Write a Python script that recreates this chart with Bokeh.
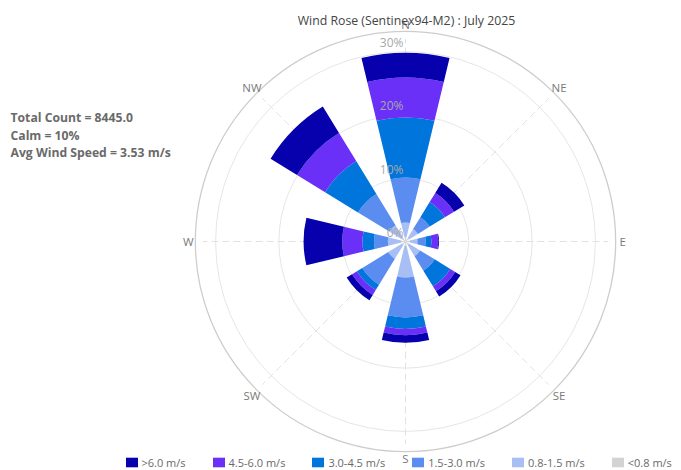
import numpy as np
from bokeh.plotting import figure
from bokeh.models import Range1d, Legend, LegendItem, ColumnDataSource
from bokeh.core.properties import value
from bokeh.embed import file_html
from bokeh.resources import INLINE

# ---------------- data ----------------
title_text = "Wind Rose (Sentinex94-M2) : July 2025"
directions = ["N", "NE", "E", "SE", "S", "SW", "W", "NW"]
direction_deg = [0, 45, 90, 135, 180, 225, 270, 315]

speed_bins = ["<0.8 m/s", "0.8-1.5 m/s", "1.5-3.0 m/s", "3.0-4.5 m/s", "4.5-6.0 m/s", ">6.0 m/s"]
bin_colors = ["#d3d3d3", "#a7bff5", "#5b8cf0", "#0075db", "#6a30f8", "#0600ad"]

# percent of observations per direction (N, NE, E, SE, S, SW, W, NW)
pct_lt_0_8 = [0.7, 0.7, 0.7, 0.7, 0.7, 0.7, 0.7, 0.7]
pct_0_8_1_5 = [2.3, 1.6, 1.2, 2.0, 5.0, 2.5, 2.1, 2.3]
pct_1_5_3_0 = [7.1, 2.2, 1.3, 2.7, 6.3, 4.8, 2.2, 5.8]
pct_3_0_4_5 = [9.5, 2.8, 0.9, 2.9, 1.8, 1.0, 1.8, 6.1]
pct_4_5_6_0 = [6.3, 1.7, 1.1, 0.9, 1.0, 0.9, 3.2, 5.2]
pct_gt_6_0 = [3.9, 1.9, 0.1, 1.0, 1.2, 1.0, 6.1, 4.9]
series = [pct_lt_0_8, pct_0_8_1_5, pct_1_5_3_0, pct_3_0_4_5, pct_4_5_6_0, pct_gt_6_0]

ring_values = [0, 10, 20, 30]
ring_labels = ["0%", "10%", "20%", "30%"]
outer_ring = 33.2

stats_lines = ["Total Count = 8445.0", "Calm = 10%", "Avg Wind Speed = 3.53 m/s"]

# ---------------- layout ----------------
W, H = 681, 470
CX, CY = 405, 241      # rose centre in canvas pixels (from top-left)
K = 6.33               # pixels per percent
SECTOR_HALF = 13.5     # half width of a bar, degrees
FONT = "Open Sans"


def xd(px):
    return (px - CX) / K


def yd(py):
    return (CY - py) / K


p = figure(width=W, height=H,
           x_range=Range1d(xd(0), xd(W)), y_range=Range1d(yd(H), yd(0)),
           x_axis_type=None, y_axis_type=None,
           output_backend="svg", toolbar_location=None,
           min_border=0, outline_line_color=None)
p.background_fill_color = "white"

# grid rings
p.circle(x=0, y=0, radius=ring_values[1:], fill_color=None,
         line_color="#e6e6e6", line_width=1)
p.circle(x=0, y=0, radius=[outer_ring], fill_color=None,
         line_color="#cdcdcd", line_width=1.3)

# spokes
ang = np.radians(90 - np.array(direction_deg))
spoke_r = 32.0
p.segment(x0=0, y0=0, x1=spoke_r * np.cos(ang), y1=spoke_r * np.sin(ang),
          line_color="#e2e2e2", line_width=1, line_dash="7 4")

# stacked bars
start = np.radians(90 - np.array(direction_deg) - SECTOR_HALF)
end = np.radians(90 - np.array(direction_deg) + SECTOR_HALF)
cum = np.zeros(len(directions))
rend = {}
for lab, col, vals in zip(speed_bins, bin_colors, series):
    inner = cum.copy()
    outer = cum + np.array(vals)
    src = ColumnDataSource(dict(inner=inner, outer=outer, start=start, end=end))
    r = p.annular_wedge(x=0, y=0, inner_radius="inner", outer_radius="outer",
                        start_angle="start", end_angle="end", direction="anticlock",
                        source=src, fill_color=col, line_color=None)
    rend[lab] = r
    cum = outer

# ring labels
p.text(x=[xd(403)] * len(ring_values), y=[v + 0.1 for v in ring_values], text=ring_labels,
       text_align="right", text_baseline="bottom", text_font=value(FONT),
       text_font_size="12px", text_color="#a8a8a8")

# compass labels
lab_r = 34.3
p.text(x=lab_r * np.cos(ang), y=lab_r * np.sin(ang), text=directions,
       text_align="center", text_baseline="middle", text_font=value(FONT),
       text_font_size="11.5px", text_color="#7a7a7a")

# title
p.text(x=[xd(406)], y=[yd(20)], text=[title_text], text_align="center",
       text_baseline="middle", text_font=value(FONT), text_font_size="12.3px",
       text_color="#444444")

# stats
p.text(x=[xd(10)] * 3, y=[yd(117), yd(134.5), yd(152)], text=stats_lines,
       text_align="left", text_baseline="middle", text_font=value(FONT),
       text_font_size="12.2px", text_font_style="bold", text_color="#6a6a6a")

legend = Legend(items=[LegendItem(label=lab, renderers=[rend[lab]]) for lab in reversed(speed_bins)],
                orientation="horizontal", location=(123.5, 0.5),
                glyph_width=15, glyph_height=12, label_height=12,
                label_standoff=3, spacing=25, padding=0, margin=0,
                border_line_color=None, background_fill_alpha=0,
                label_text_font=FONT, label_text_font_size="11px",
                label_text_color="#6a6a6a", label_text_baseline="middle")
p.add_layout(legend, "center")

open("out.html", "w").write(file_html(p, INLINE))
